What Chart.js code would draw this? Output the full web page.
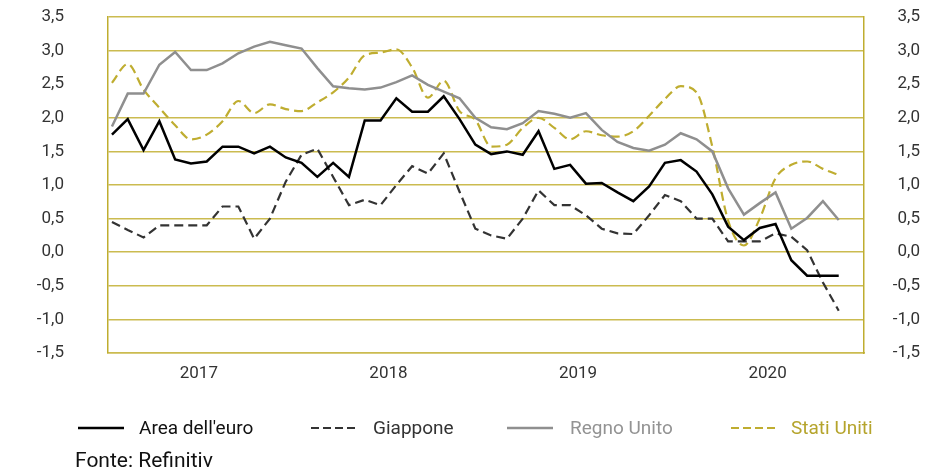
<!DOCTYPE html>
<html>
<head>
<meta charset="utf-8">
<script src="https://cdn.jsdelivr.net/npm/chart.js@4.4.1/dist/chart.umd.min.js"></script>
<style>
  html, body { margin: 0; padding: 0; background: #ffffff; }
  #wrap { position: relative; width: 929px; height: 472px; overflow: hidden; }
  canvas { display: block; }
</style>
</head>
<body>
<div id="wrap"><canvas id="c" width="929" height="472"></canvas></div>
<script>
// ---- categories (monthly, Jan 2017 .. Nov 2020) ----
const months = [
  'gen 2017','feb 2017','mar 2017','apr 2017','mag 2017','giu 2017','lug 2017','ago 2017','set 2017','ott 2017','nov 2017','dic 2017',
  'gen 2018','feb 2018','mar 2018','apr 2018','mag 2018','giu 2018','lug 2018','ago 2018','set 2018','ott 2018','nov 2018','dic 2018',
  'gen 2019','feb 2019','mar 2019','apr 2019','mag 2019','giu 2019','lug 2019','ago 2019','set 2019','ott 2019','nov 2019','dic 2019',
  'gen 2020','feb 2020','mar 2020','apr 2020','mag 2020','giu 2020','lug 2020','ago 2020','set 2020','ott 2020','nov 2020'
];

// ---- series values ----
const areaEuro = [1.75,1.98,1.52,1.95,1.38,1.32,1.35,1.57,1.57,1.47,1.57,1.41,
                  1.33,1.12,1.33,1.12,1.96,1.96,2.29,2.09,2.09,2.32,1.98,1.60,
                  1.46,1.50,1.45,1.80,1.24,1.30,1.02,1.03,0.89,0.76,0.98,1.33,
                  1.37,1.20,0.86,0.38,0.18,0.36,0.42,-0.12,-0.35,-0.35,-0.35];
const giappone = [0.45,0.33,0.22,0.40,0.40,0.40,0.40,0.68,0.68,0.20,0.50,1.05,
                  1.45,1.54,1.12,0.70,0.78,0.70,1.00,1.28,1.17,1.47,0.90,0.35,
                  0.25,0.20,0.50,0.92,0.70,0.70,0.55,0.35,0.28,0.27,0.55,0.85,
                  0.76,0.50,0.50,0.16,0.16,0.16,0.28,0.23,0.03,-0.45,-0.87];
const regnoUnito = [1.87,2.36,2.36,2.79,2.98,2.71,2.71,2.81,2.96,3.06,3.13,3.08,
                    3.03,2.74,2.47,2.44,2.42,2.45,2.53,2.63,2.49,2.39,2.29,2.00,
                    1.86,1.83,1.92,2.10,2.06,2.00,2.07,1.82,1.64,1.55,1.51,1.60,
                    1.77,1.68,1.50,0.95,0.56,0.73,0.89,0.35,0.51,0.76,0.48];
const statiUniti = [2.52,2.80,2.42,2.15,1.89,1.68,1.75,1.95,2.25,2.07,2.20,2.13,
                    2.10,2.23,2.38,2.60,2.93,2.97,3.02,2.75,2.30,2.55,2.10,1.97,
                    1.57,1.60,1.85,2.00,1.85,1.68,1.80,1.74,1.72,1.80,2.03,2.28,
                    2.47,2.38,1.57,0.47,0.10,0.50,1.10,1.30,1.35,1.24,1.15];

// ---- tick labels ----
const yearLabels = ['2017','2018','2019','2020'];
const yearTickPos = [5.5, 17.5, 29.5, 41.5]; // middle of each year (in months)
const seriesNames = ["Area dell'euro", 'Giappone', 'Regno Unito', 'Stati Uniti'];
const sourceText = 'Fonte: Refinitiv';

const GOLD = '#bfad30';
const GRID = '#cbbb50';
const TICK = '#333333';
const FONT = 'Roboto';

function pts(arr) { return arr.map((v, i) => ({ x: i, y: v, m: months[i] })); }

const fmt = v => v.toFixed(1).replace('.', ',');

const legendItems = [
  { text: seriesNames[0], color: '#000000', textColor: '#111111', dash: [], width: 2.5, x: 78, tx: 139 },
  { text: seriesNames[1], color: '#333333', textColor: '#333333', dash: [8, 4], width: 2.2, x: 311, tx: 373 },
  { text: seriesNames[2], color: '#8f8f8f', textColor: '#939393', dash: [], width: 2.5, x: 507, tx: 570 },
  { text: seriesNames[3], color: GOLD, textColor: '#b5a42c', dash: [8, 4], width: 2.2, x: 731, tx: 791 }
];

const legendPlugin = {
  id: 'customLegend',
  afterDraw(chart) {
    const ctx = chart.ctx;
    ctx.save();
    legendItems.forEach(it => {
      ctx.beginPath();
      ctx.setLineDash(it.dash);
      ctx.lineWidth = it.width;
      ctx.strokeStyle = it.color;
      ctx.moveTo(it.x, 428);
      ctx.lineTo(it.x + 46, 428);
      ctx.stroke();
      ctx.setLineDash([]);
      ctx.font = '19px ' + FONT;
      ctx.fillStyle = it.textColor;
      ctx.textAlign = 'left';
      ctx.textBaseline = 'alphabetic';
      ctx.fillText(it.text, it.tx, 433.5);
    });
    ctx.font = '21px ' + FONT;
    ctx.fillStyle = '#111111';
    ctx.fillText(sourceText, 75, 467);
    ctx.restore();
  }
};

function noPad(s) { s.paddingTop = 0; s.paddingBottom = 0; }

function build() {
  const ctx = document.getElementById('c').getContext('2d');
  new Chart(ctx, {
    type: 'line',
    data: {
      datasets: [
        { label: seriesNames[0], data: pts(areaEuro), borderColor: '#000000', borderWidth: 2.5, tension: 0, pointRadius: 0, yAxisID: 'y' },
        { label: seriesNames[1], data: pts(giappone), borderColor: '#333333', borderWidth: 2.2, borderDash: [9, 5], tension: 0, pointRadius: 0, yAxisID: 'y' },
        { label: seriesNames[2], data: pts(regnoUnito), borderColor: '#8f8f8f', borderWidth: 2.5, tension: 0, pointRadius: 0, yAxisID: 'y' },
        { label: seriesNames[3], data: pts(statiUniti), borderColor: GOLD, borderWidth: 2.2, borderDash: [9, 5], cubicInterpolationMode: 'monotone', pointRadius: 0, yAxisID: 'y' }
      ]
    },
    options: {
      responsive: false,
      animation: false,
      devicePixelRatio: 1,
      layout: { padding: { left: 0, right: 9, top: 17, bottom: 89 } },
      plugins: { legend: { display: false }, tooltip: { enabled: false } },
      scales: {
        x: {
          type: 'linear',
          min: -0.25,
          max: 47.6,
          afterBuildTicks: s => { s.ticks = yearTickPos.map(v => ({ value: v })); },
          afterFit: s => { s.height = 30; s.paddingLeft = 0; s.paddingRight = 0; },
          grid: { display: false, drawTicks: false },
          border: { display: true, color: GRID, width: 1.5 },
          ticks: {
            autoSkip: false,
            maxRotation: 0,
            padding: 11,
            color: TICK,
            font: { family: FONT, size: 17 },
            callback: (v) => { const i = yearTickPos.indexOf(v); return i >= 0 ? yearLabels[i] : ''; }
          }
        },
        y: {
          position: 'left',
          min: -1.5,
          max: 3.5,
          afterFit: s => { s.width = 108; noPad(s); },
          grid: {
            drawTicks: false,
            lineWidth: 1.5,
            color: c => (c.tick && Math.abs(c.tick.value - 2.5) < 1e-9) ? 'rgba(0,0,0,0)' : GRID
          },
          border: { display: true, color: GOLD, width: 1.5 },
          ticks: {
            stepSize: 0.5,
            padding: 44,
            color: TICK,
            font: { family: FONT, size: 17 },
            callback: v => fmt(v)
          }
        },
        y2: {
          position: 'right',
          min: -1.5,
          max: 3.5,
          afterFit: s => { s.width = 56; noPad(s); },
          grid: { display: false, drawTicks: false },
          border: { display: true, color: GOLD, width: 1.5 },
          ticks: {
            stepSize: 0.5,
            crossAlign: 'far',
            color: TICK,
            font: { family: FONT, size: 17 },
            callback: v => fmt(v)
          }
        }
      }
    },
    plugins: [legendPlugin]
  });
}

if (document.fonts && document.fonts.load) {
  Promise.all([document.fonts.load('17px Roboto'), document.fonts.load('19px Roboto')])
    .then(build, build);
} else { build(); }
</script>
</body>
</html>
